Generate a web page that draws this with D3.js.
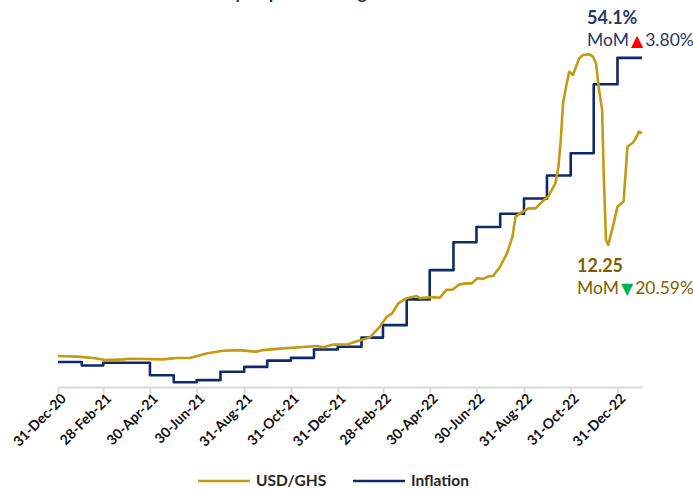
<!DOCTYPE html>
<html>
<head>
<meta charset="utf-8">
<script src="https://cdn.jsdelivr.net/npm/d3@7"></script>
<style>
  body { margin: 0; background: #fff; }
  svg { display: block; font-family: Lato, "Open Sans", sans-serif; }
</style>
</head>
<body>
<svg width="693" height="489"></svg>
<script>
// weekly USD/GHS readings
const fxDates = ["2020-12-31","2021-01-25","2021-02-15","2021-03-03","2021-03-26","2021-04-04","2021-05-17","2021-06-04","2021-06-21","2021-07-14","2021-08-03","2021-08-25","2021-09-07","2021-09-16","2021-09-24","2021-10-21","2021-11-16","2021-12-04","2021-12-12","2021-12-25","2022-01-12","2022-01-25","2022-02-11","2022-02-24","2022-03-05","2022-03-12","2022-03-20","2022-03-31","2022-04-13","2022-04-17","2022-05-04","2022-05-13","2022-05-22","2022-05-30","2022-06-08","2022-06-17","2022-06-24","2022-07-01","2022-07-09","2022-07-15","2022-07-22","2022-07-31","2022-08-09","2022-08-16","2022-08-20","2022-08-29","2022-09-06","2022-09-15","2022-09-24","2022-10-02","2022-10-11","2022-10-15","2022-10-18","2022-10-21","2022-10-25","2022-10-29","2022-11-03","2022-11-07","2022-11-11","2022-11-16","2022-11-24","2022-11-29","2022-12-03","2022-12-07","2022-12-11","2022-12-13","2022-12-16","2022-12-19","2022-12-25","2022-12-31","2023-01-08","2023-01-13","2023-01-20","2023-01-24","2023-01-28","2023-02-01"];
const fxValues = [5.76,5.74,5.70,5.64,5.66,5.68,5.66,5.70,5.70,5.84,5.91,5.93,5.90,5.88,5.93,5.98,6.02,6.05,6.01,6.09,6.09,6.19,6.30,6.61,6.90,7.00,7.29,7.44,7.50,7.44,7.47,7.45,7.68,7.69,7.84,7.87,7.87,8.02,8.00,8.07,8.09,8.36,8.75,9.23,9.81,9.95,10.05,10.05,10.25,10.41,10.78,11.26,12.04,13.11,13.59,14.02,13.93,14.17,14.41,14.51,14.53,14.46,14.27,13.49,12.91,11.07,9.13,8.99,9.52,10.10,10.25,11.84,11.96,12.09,12.28,12.23];

// monthly inflation (%), last point carries Dec-22 to chart end
const infDates = ["2020-12-31","2021-01-31","2021-02-28","2021-03-31","2021-04-30","2021-05-31","2021-06-30","2021-07-31","2021-08-31","2021-09-30","2021-10-31","2021-11-30","2021-12-31","2022-01-31","2022-02-28","2022-03-31","2022-04-30","2022-05-31","2022-06-30","2022-07-31","2022-08-31","2022-09-30","2022-10-31","2022-11-30","2022-12-31","2023-02-01"];
const infValues = [10.4,9.9,10.3,10.3,8.5,7.5,7.8,9.0,9.7,10.6,11.0,12.2,12.6,13.9,15.7,19.4,23.6,27.6,29.8,31.7,33.9,37.2,40.4,50.3,54.1,54.1];

const tickDates = ["2020-12-31","2021-02-28","2021-04-30","2021-06-30","2021-08-31","2021-10-31","2021-12-31","2022-02-28","2022-04-30","2022-06-30","2022-08-31","2022-10-31","2022-12-31"];
const seriesNames = ["USD/GHS", "Inflation"];
const seriesColors = ["#C49A12", "#0E2A6B"];

const parse = d3.timeParse("%Y-%m-%d");
const fx = fxDates.map((d, i) => ({ date: parse(d), value: fxValues[i] }));
const inf = infDates.map((d, i) => ({ date: parse(d), value: infValues[i] }));

const svg = d3.select("svg");

// title, mostly cut off at the top edge (as in the source image)
svg.append("text")
    .attr("x", 325).attr("y", -1)
    .attr("text-anchor", "middle")
    .attr("font-size", 17).attr("font-weight", "bold")
    .attr("fill", "#262626")
    .text("Monthly Depreciation against Inflation");

const x = d3.scaleTime()
    .domain([parse("2020-12-31"), parse("2023-02-01")])
    .range([58, 642]);
const yFx = d3.scaleLinear().domain([4, 16]).range([416.5, 3.7]);
const yInf = d3.scaleLinear().domain([0, 60]).range([434.4, 16.8]);

const axis = svg.append("g")
    .attr("transform", "translate(0,387)")
    .call(d3.axisBottom(x)
        .tickValues(tickDates.map(parse))
        .tickFormat(d3.timeFormat("%d-%b-%y"))
        .tickSize(6).tickSizeOuter(0));
axis.select(".domain").attr("stroke", "#D9D9D9").attr("stroke-width", 2);
axis.selectAll(".tick line").attr("stroke", "#D9D9D9").attr("stroke-width", 2);
axis.selectAll(".tick text")
    .attr("font-family", "Lato, sans-serif")
    .attr("font-size", 14).attr("font-weight", "bold")
    .attr("fill", "#111")
    .attr("text-anchor", "end")
    .attr("transform", "translate(5,9) rotate(-45)")
    .attr("dy", "0.35em").attr("y", 0).attr("x", 0);

const fxLine = d3.line().x(d => x(d.date)).y(d => yFx(d.value));
const infLine = d3.line().curve(d3.curveStepAfter).x(d => x(d.date)).y(d => yInf(d.value));

svg.append("path").datum(inf)
    .attr("fill", "none").attr("stroke", seriesColors[1])
    .attr("stroke-width", 2.6).attr("stroke-linejoin", "round")
    .attr("d", infLine);

svg.append("path").datum(fx)
    .attr("fill", "none").attr("stroke", seriesColors[0])
    .attr("stroke-width", 2.6).attr("stroke-linejoin", "round")
    .attr("d", fxLine);

// annotations
const lastInf = inf[inf.length - 1];
svg.append("text")
    .attr("x", 587).attr("y", 24)
    .attr("font-size", 18).attr("font-weight", "bold").attr("fill", "#1F3864")
    .text(lastInf.value.toFixed(1) + "%");
const t1 = svg.append("text")
    .attr("x", 587).attr("y", 46)
    .attr("font-size", 17.5).attr("fill", "#1F3864");
t1.append("tspan").text("MoM");
t1.append("tspan").attr("dx", 2).attr("fill", "#FF0000").attr("font-family", "DejaVu Sans").attr("font-size", 16).text("▲");
t1.append("tspan").attr("dx", 2).text("3.80%");

svg.append("text")
    .attr("x", 577).attr("y", 272)
    .attr("font-size", 18).attr("font-weight", "bold").attr("fill", "#7F6000")
    .text("12.25");
const t2 = svg.append("text")
    .attr("x", 577).attr("y", 294)
    .attr("font-size", 17.5).attr("fill", "#7F6000");
t2.append("tspan").text("MoM");
t2.append("tspan").attr("dx", 2).attr("fill", "#00B050").attr("font-family", "DejaVu Sans").attr("font-size", 16).text("▼");
t2.append("tspan").attr("dx", 2).text("20.59%");

// legend
const legendX = [198, 353];
const legend = svg.selectAll("g.legend")
    .data(seriesNames)
    .enter().append("g")
    .attr("class", "legend")
    .attr("transform", (d, i) => `translate(${legendX[i]},481)`);
legend.append("line")
    .attr("x1", 0).attr("x2", 52)
    .attr("stroke", (d, i) => seriesColors[i]).attr("stroke-width", 2.6);
legend.append("text")
    .attr("x", 58).attr("dy", "0.35em")
    .attr("font-size", 15.5).attr("font-weight", "bold").attr("fill", "#262626")
    .text(d => d);
</script>
</body>
</html>
